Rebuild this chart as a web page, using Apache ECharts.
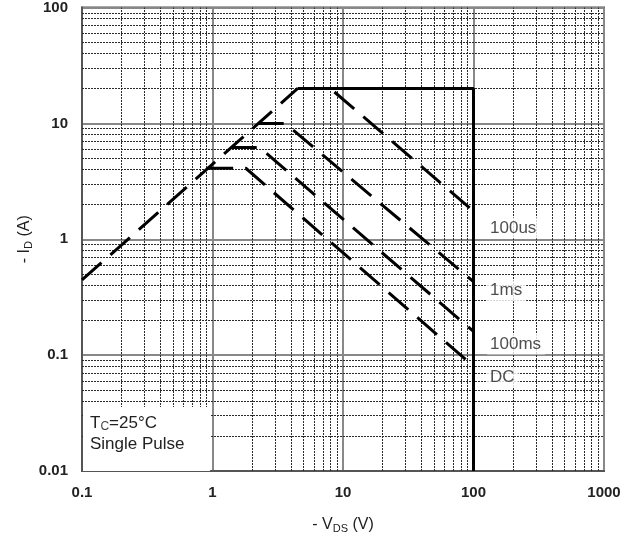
<!DOCTYPE html>
<html>
<head>
<meta charset="utf-8">
<script src="https://cdn.jsdelivr.net/npm/echarts@6/dist/echarts.min.js"></script>
<style>
  html, body { margin: 0; padding: 0; background: #fff; }
  #chartSOA { width: 639px; height: 539px; }
</style>
</head>
<body>
<div id="chartSOA"></div>
<script>
// safe operating area, log-log
const _X_TICKS = [0.1, 1, 10, 100, 1000]
const _Y_TICKS = [0.01, 0.1, 1, 10, 100]
const _MINOR = [2, 3, 4, 5, 6, 7, 8, 9]

// R_DS(on) limit line (rising, shared by all pulses)
const _RDSON = [[0.1, 0.445], [4.5, 20]]
// envelope: current limit + BV limit (solid)
const _LIMIT = [[4.5, 20], [100, 20], [100, 0.01]]
// pulse curves (knee + thermal limit)
const _P100US = [[4.5, 20], [8, 20], [100, 1.75]]
const _P1MS = [[2.22, 10], [3.6, 10], [100, 0.43]]
const _P100MS = [[1.38, 6.2], [2.3, 6.2], [100, 0.16]]
const _PDC = [[0.91, 4.1], [1.8, 4.1], [100, 0.08]]

const _CURVE_NAMES = ['100us', '1ms', '100ms', 'DC']
const _CURVE_LABEL_X = [127, 127, 127, 127]
const _CURVE_LABEL_Y = [1.25, 0.36, 0.125, 0.064]

// minor grid values, 2..9 of each decade
const minorX = []
_X_TICKS.slice(0, -1).forEach(d => _MINOR.forEach(m => minorX.push(+(d * m).toPrecision(3))))
const minorY = []
_Y_TICKS.slice(0, -1).forEach(d => _MINOR.forEach(m => minorY.push(+(d * m).toPrecision(3))))

const FONT = '"Liberation Sans", Arial, sans-serif'
const dashStyle = { color: '#000', width: 3, type: [26, 12], cap: 'butt' }

var myChart = echarts.init(document.getElementById('chartSOA'));

function curve(name, data) {
  return {
    name: name,
    type: 'line',
    data: data,
    symbol: 'none',
    silent: true,
    lineStyle: dashStyle,
    z: 5
  }
}

myChart.setOption({
  animation: false,
  grid: {
    left: 82,
    top: 7,
    right: 35,
    bottom: 67,
    show: true,
    borderColor: '#555',
    borderWidth: 2,
    backgroundColor: '#fff'
  },
  textStyle: { fontFamily: FONT },
  xAxis: {
    type: 'log',
    logBase: 10,
    min: 0.1,
    max: 1000,
    axisLine: { show: true, lineStyle: { color: '#555', width: 2 } },
    axisTick: { show: false },
    axisLabel: {
      color: '#222',
      fontWeight: 'bold',
      fontSize: 15,
      margin: 14,
      formatter: v => String(v)
    },
    splitLine: { show: true, lineStyle: { color: '#888', width: 2 } },
    name: '- V{sub|DS} (V)',
    nameLocation: 'middle',
    nameGap: 44,
    nameTextStyle: {
      color: '#222',
      fontSize: 16,
      rich: { sub: { fontSize: 11, padding: [8, 0, 0, 0], color: '#222' } }
    }
  },
  yAxis: {
    type: 'log',
    logBase: 10,
    min: 0.01,
    max: 100,
    axisLine: { show: true, lineStyle: { color: '#555', width: 2 } },
    axisTick: { show: false },
    axisLabel: {
      color: '#222',
      fontWeight: 'bold',
      fontSize: 15,
      margin: 14,
      formatter: v => String(v)
    },
    splitLine: { show: true, lineStyle: { color: '#888', width: 2 } },
    name: '- I{sub|D} (A)',
    nameLocation: 'middle',
    nameGap: 48,
    nameMoveOverlap: false,
    nameRotate: 90,
    nameTextStyle: {
      color: '#222',
      fontSize: 16,
      rich: { sub: { fontSize: 11, padding: [8, 0, 0, 0], color: '#222' } }
    }
  },
  series: [
    {
      // minor grid lines
      name: 'grid',
      type: 'line',
      data: [],
      silent: true,
      markLine: {
        silent: true,
        symbol: 'none',
        label: { show: false },
        animation: false,
        lineStyle: { color: '#2a2a2a', width: 1, type: [2, 1] },
        data: minorX.map(v => ({ xAxis: v })).concat(minorY.map(v => ({ yAxis: v })))
      },
      z: 1
    },
    curve('RDSon', _RDSON),
    curve('100us', _P100US),
    curve('1ms', _P1MS),
    curve('100ms', _P100MS),
    curve('DC', _PDC),
    {
      name: 'limit',
      type: 'line',
      data: _LIMIT,
      symbol: 'none',
      silent: true,
      lineStyle: { color: '#000', width: 3 },
      z: 6
    },
    {
      name: 'labels',
      type: 'scatter',
      symbolSize: 0,
      silent: true,
      data: _CURVE_NAMES.map((n, i) => ({ value: [_CURVE_LABEL_X[i], _CURVE_LABEL_Y[i]], name: n })),
      label: {
        show: true,
        position: 'right',
        distance: 0,
        formatter: p => p.name,
        color: '#222',
        fontSize: 17,
        backgroundColor: '#fff',
        padding: [2, 4, 2, 3]
      },
      z: 7
    }
  ],
  graphic: [
    {
      type: 'rect',
      left: 83,
      top: 407,
      shape: { width: 127, height: 64 },
      style: { fill: '#fff' },
      z: 100
    },
    {
      type: 'text',
      left: 90,
      top: 413,
      z: 101,
      style: {
        text: 'T{sub|C}=25°C\nSingle Pulse',
        fill: '#222',
        fontSize: 17,
        fontFamily: FONT,
        lineHeight: 21,
        rich: { sub: { fontSize: 12, fill: '#444', padding: [7, 0, 0, 0] } }
      }
    }
  ]
});
</script>
</body>
</html>
